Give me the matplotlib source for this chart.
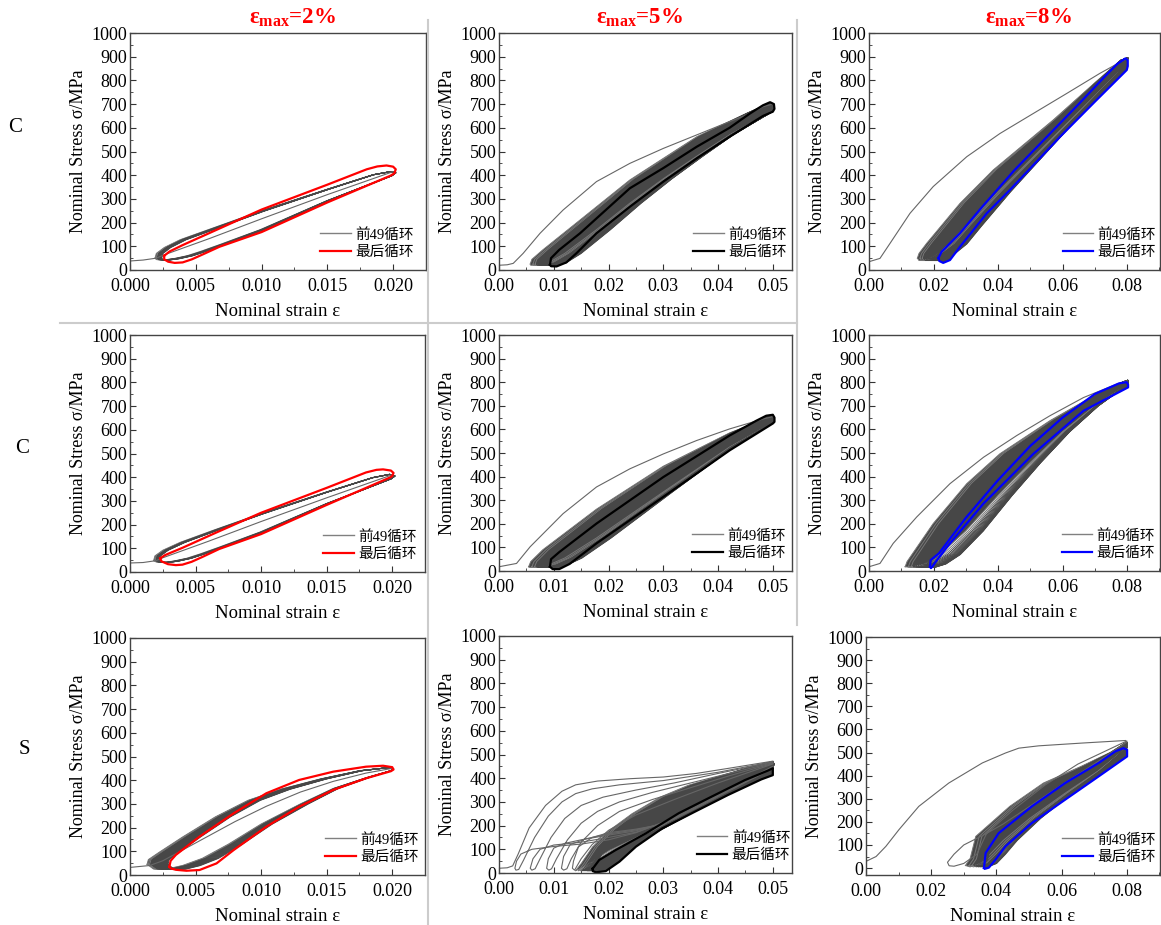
import numpy as np
import matplotlib.pyplot as plt
from matplotlib.lines import Line2D
from matplotlib.ticker import MultipleLocator, FormatStrFormatter

plt.rcParams['font.family'] = ['Liberation Serif', 'Noto Sans CJK SC']
plt.rcParams['mathtext.fontset'] = 'custom'
plt.rcParams['mathtext.rm'] = 'Liberation Serif'
plt.rcParams['mathtext.bf'] = 'Liberation Serif:bold'
plt.rcParams['mathtext.it'] = 'Liberation Serif:italic'

# ---------------- datos ----------------
titles = ['2%', '5%', '8%']
row_labels = ['C', 'C', 'S']
legend_labels = ['前49循环', '最后循环']

# fila 1, C, 2%
a_first_x = [0.0000, 0.0010, 0.0020, 0.0025, 0.0060, 0.0100, 0.0150, 0.0200]
a_first_y = [38, 42, 50, 62, 132, 216, 318, 415]
a_band_x = [0.0021, 0.0022, 0.0028, 0.0040, 0.0066, 0.0100, 0.0150, 0.0185, 0.0198, 0.0202,
            0.0199, 0.0150, 0.0100, 0.0070, 0.0055, 0.0045, 0.0035, 0.0027, 0.0022, 0.0021]
a_band_y = [50, 70, 95, 128, 180, 248, 340, 402, 415, 410,
            398, 292, 170, 108, 78, 60, 48, 42, 44, 50]
a_valleys = [0.0019, 0.0020, 0.0020, 0.0021, 0.0021, 0.0021, 0.0022, 0.0022,
             0.0022, 0.0022, 0.0023, 0.0023, 0.0023, 0.0023, 0.0024, 0.0024]
a_last_x = [0.0026, 0.0030, 0.0040, 0.0066, 0.0100, 0.0150, 0.0180, 0.0188, 0.0195, 0.0200, 0.0202, 0.0201,
            0.0198, 0.0150, 0.0100, 0.0068, 0.0055, 0.0047, 0.0040, 0.0034, 0.0029, 0.0026, 0.0026]
a_last_y = [60, 78, 105, 170, 255, 360, 425, 437, 441, 436, 425, 408,
            398, 285, 160, 98, 65, 45, 32, 30, 35, 45, 60]

# fila 1, C, 5%
b_first_x = [0.0000, 0.0015, 0.0026, 0.0044, 0.0075, 0.0117, 0.0178, 0.0239, 0.0300, 0.0361,
             0.0421, 0.0452, 0.0482, 0.0500]
b_first_y = [20, 22, 28, 70, 155, 253, 373, 450, 513, 570, 626, 654, 689, 700]
b_band_x = [0.0057, 0.0060, 0.0080, 0.0148, 0.0239, 0.0361, 0.0452, 0.0495, 0.0502,
            0.0500, 0.0421, 0.0361, 0.0300, 0.0239, 0.0178, 0.0120, 0.0090, 0.0070, 0.0058, 0.0057]
b_band_y = [25, 45, 85, 211, 380, 562, 661, 705, 695,
            670, 570, 480, 385, 282, 170, 70, 30, 20, 20, 25]
b_valleys = [0.0057, 0.0062, 0.0066, 0.0069, 0.0072, 0.0074, 0.0076, 0.0078, 0.0080, 0.0081, 0.0082,
             0.0083, 0.0084, 0.0085, 0.0086, 0.0087, 0.0088, 0.0089, 0.0090, 0.0091, 0.0092]
b_last_x = [0.0093, 0.0095, 0.0110, 0.0148, 0.0239, 0.0300, 0.0361, 0.0421, 0.0458, 0.0482, 0.0495, 0.0502,
            0.0503, 0.0500, 0.0482, 0.0421, 0.0361, 0.0300, 0.0239, 0.0178, 0.0142, 0.0123, 0.0105,
            0.0095, 0.0093]
b_last_y = [22, 50, 85, 155, 345, 430, 520, 600, 660, 695, 708, 700,
            680, 668, 650, 562, 471, 373, 267, 155, 72, 32, 15, 16, 22]

# fila 1, C, 8%
c_first_x = [0.0000, 0.0034, 0.0065, 0.0127, 0.0199, 0.0303, 0.0406, 0.0510, 0.0613, 0.0716, 0.0800]
c_first_y = [35, 49, 112, 239, 352, 478, 576, 661, 745, 830, 893]
c_band_x = [0.0150, 0.0155, 0.0179, 0.0282, 0.0385, 0.0571, 0.0700, 0.0780, 0.0802,
            0.0800, 0.0700, 0.0600, 0.0500, 0.0400, 0.0300, 0.0250, 0.0200, 0.0170, 0.0155, 0.0150]
c_band_y = [50, 70, 113, 281, 422, 633, 790, 885, 895,
            870, 735, 600, 465, 330, 185, 110, 60, 40, 40, 50]
c_valleys = [0.0150, 0.0158, 0.0165, 0.0170, 0.0175, 0.0179, 0.0183, 0.0186, 0.0189, 0.0192, 0.0195,
             0.0197, 0.0199, 0.0201, 0.0203, 0.0205, 0.0207, 0.0209, 0.0210, 0.0212, 0.0213]
c_last_x = [0.0215, 0.0225, 0.0282, 0.0350, 0.0450, 0.0550, 0.0650, 0.0730, 0.0770, 0.0795, 0.0802, 0.0802,
            0.0799, 0.0700, 0.0592, 0.0500, 0.0437, 0.0365, 0.0282, 0.0251, 0.0230, 0.0218, 0.0215]
c_last_y = [50, 77, 155, 265, 420, 560, 700, 815, 870, 893, 885, 860,
            844, 710, 562, 429, 338, 239, 98, 42, 30, 38, 50]

# fila 2, C, 2%
d_first_x = [0.0000, 0.0010, 0.0020, 0.0025, 0.0060, 0.0100, 0.0150, 0.0200]
d_first_y = [38, 40, 48, 60, 130, 213, 313, 410]
d_band_x = [0.0020, 0.0021, 0.0027, 0.0040, 0.0066, 0.0100, 0.0150, 0.0185, 0.0198, 0.0202,
            0.0199, 0.0150, 0.0100, 0.0070, 0.0055, 0.0045, 0.0035, 0.0027, 0.0022, 0.0020]
d_band_y = [48, 68, 92, 125, 178, 245, 337, 398, 412, 405,
            393, 288, 168, 106, 76, 58, 46, 40, 42, 48]
d_valleys = [0.0018, 0.0019, 0.0019, 0.0020, 0.0020, 0.0020, 0.0021, 0.0021,
             0.0021, 0.0021, 0.0022, 0.0022, 0.0022, 0.0022]
d_last_x = [0.0023, 0.0027, 0.0040, 0.0066, 0.0100, 0.0150, 0.0180, 0.0188, 0.0193, 0.0199, 0.0201, 0.0200,
            0.0198, 0.0150, 0.0100, 0.0068, 0.0055, 0.0047, 0.0040, 0.0035, 0.0029, 0.0024, 0.0023]
d_last_y = [58, 72, 102, 167, 250, 355, 420, 431, 433, 428, 418, 405,
            398, 283, 160, 97, 63, 43, 31, 29, 33, 45, 58]

# fila 2, C, 5%
e_first_x = [0.0000, 0.0032, 0.0057, 0.0117, 0.0178, 0.0239, 0.0300, 0.0361, 0.0421, 0.0482, 0.0500]
e_first_y = [18, 32, 103, 243, 356, 433, 496, 553, 602, 644, 654]
e_band_x = [0.0054, 0.0058, 0.0080, 0.0178, 0.0300, 0.0421, 0.0482, 0.0498, 0.0503,
            0.0500, 0.0421, 0.0300, 0.0178, 0.0120, 0.0090, 0.0070, 0.0056, 0.0054]
e_band_y = [18, 40, 90, 262, 444, 585, 641, 660, 650,
            628, 525, 335, 140, 55, 25, 15, 15, 18]
e_valleys = [0.0054, 0.0060, 0.0065, 0.0069, 0.0072, 0.0075, 0.0077, 0.0079, 0.0081, 0.0082,
             0.0083, 0.0084, 0.0085, 0.0086, 0.0087, 0.0088, 0.0089, 0.0090, 0.0091]
e_last_x = [0.0093, 0.0095, 0.0110, 0.0178, 0.0300, 0.0421, 0.0470, 0.0488, 0.0500, 0.0503, 0.0503,
            0.0500, 0.0421, 0.0300, 0.0178, 0.0129, 0.0110, 0.0098, 0.0093]
e_last_y = [18, 50, 80, 201, 398, 574, 637, 658, 662, 650, 632,
            625, 511, 314, 117, 30, 8, 8, 18]

# fila 2, C, 8%
f_first_x = [0.0000, 0.0034, 0.0075, 0.0148, 0.0251, 0.0355, 0.0458, 0.0561, 0.0665, 0.0768, 0.0800]
f_first_y = [18, 32, 117, 229, 370, 482, 574, 658, 735, 792, 805]
f_band_x = [0.0112, 0.0118, 0.0199, 0.0303, 0.0406, 0.0561, 0.0700, 0.0785, 0.0802,
            0.0802, 0.0700, 0.0600, 0.0500, 0.0400, 0.0300, 0.0220, 0.0170, 0.0130, 0.0112]
f_band_y = [18, 40, 201, 370, 497, 637, 745, 800, 808,
            790, 700, 590, 460, 320, 170, 70, 30, 15, 18]
f_valleys = [0.0112, 0.0122, 0.0131, 0.0139, 0.0146, 0.0152, 0.0157, 0.0162, 0.0166, 0.0170,
             0.0173, 0.0176, 0.0178, 0.0180, 0.0182, 0.0184, 0.0185, 0.0186, 0.0187]
f_last_x = [0.0189, 0.0191, 0.0217, 0.0300, 0.0400, 0.0500, 0.0600, 0.0700, 0.0775, 0.0798, 0.0803,
            0.0803, 0.0665, 0.0510, 0.0355, 0.0251, 0.0210, 0.0196, 0.0192, 0.0189]
f_last_y = [18, 46, 75, 225, 385, 530, 650, 750, 795, 800, 790,
            778, 679, 497, 286, 117, 45, 18, 12, 18]

# fila 3, S, 2%
g_first_x = [0.0000, 0.0015, 0.0025, 0.0050, 0.0080, 0.0104, 0.0130, 0.0155, 0.0180, 0.0200]
g_first_y = [32, 40, 60, 135, 225, 290, 350, 395, 430, 450]
g_band_x = [0.0013, 0.0014, 0.0022, 0.0040, 0.0065, 0.0090, 0.0115, 0.0145, 0.0175, 0.0195, 0.0201,
            0.0199, 0.0180, 0.0155, 0.0130, 0.0100, 0.0075, 0.0055, 0.0040, 0.0028, 0.0018, 0.0013]
g_band_y = [45, 65, 95, 160, 245, 315, 362, 405, 440, 452, 448,
            440, 410, 365, 300, 215, 130, 70, 40, 25, 25, 45]
g_valleys = [0.0013, 0.0014, 0.0015, 0.0016, 0.0017, 0.0018, 0.0019, 0.0020, 0.0021,
             0.0022, 0.0023, 0.0024, 0.0025, 0.0026, 0.0027, 0.0028, 0.0029]
g_last_x = [0.0030, 0.0031, 0.0035, 0.0053, 0.0079, 0.0104, 0.0129, 0.0155, 0.0180, 0.0193, 0.0200, 0.0201,
            0.0199, 0.0180, 0.0155, 0.0129, 0.0104, 0.0079, 0.0066, 0.0053, 0.0043, 0.0035, 0.0031, 0.0030]
g_last_y = [35, 60, 85, 162, 260, 345, 401, 436, 457, 461, 455, 445,
            438, 408, 359, 288, 204, 105, 49, 21, 18, 22, 28, 35]

# fila 3, S, 5%
h_first_x = [0.0000, 0.0015, 0.0025, 0.0035, 0.0055, 0.0085, 0.0115, 0.0140, 0.0180, 0.0240,
             0.0300, 0.0360, 0.0420, 0.0500]
h_first_y = [20, 22, 30, 80, 190, 285, 345, 372, 388, 398, 405, 420, 442, 472]
h_early_x = [
    [0.0500, 0.0450, 0.0400, 0.0350, 0.0300, 0.0250, 0.0200, 0.0150, 0.0100, 0.0060, 0.0040, 0.0032,
     0.0029, 0.0031, 0.0036, 0.0045, 0.0065, 0.0090, 0.0115, 0.0140, 0.0170, 0.0220, 0.0300, 0.0400, 0.0500],
    [0.0500, 0.0450, 0.0400, 0.0350, 0.0300, 0.0250, 0.0200, 0.0150, 0.0100, 0.0075, 0.0062, 0.0057,
     0.0060, 0.0066, 0.0075, 0.0095, 0.0120, 0.0150, 0.0190, 0.0250, 0.0320, 0.0400, 0.0500],
    [0.0500, 0.0450, 0.0400, 0.0350, 0.0300, 0.0250, 0.0200, 0.0150, 0.0120, 0.0100, 0.0090, 0.0087,
     0.0091, 0.0096, 0.0105, 0.0125, 0.0150, 0.0180, 0.0220, 0.0280, 0.0350, 0.0420, 0.0500],
    [0.0500, 0.0450, 0.0400, 0.0350, 0.0300, 0.0250, 0.0200, 0.0160, 0.0130, 0.0118, 0.0114,
     0.0118, 0.0124, 0.0132, 0.0150, 0.0180, 0.0220, 0.0280, 0.0350, 0.0420, 0.0500],
    [0.0500, 0.0450, 0.0400, 0.0350, 0.0300, 0.0250, 0.0200, 0.0170, 0.0145, 0.0136, 0.0134,
     0.0138, 0.0150, 0.0170, 0.0200, 0.0250, 0.0320, 0.0400, 0.0500],
]
h_early_y = [
    [450, 390, 330, 270, 215, 170, 140, 122, 112, 100, 80, 50,
     20, 12, 15, 55, 150, 240, 300, 335, 355, 372, 390, 425, 470],
    [448, 388, 328, 268, 212, 172, 150, 130, 118, 100, 60, 20,
     12, 18, 60, 150, 230, 285, 320, 350, 380, 420, 468],
    [446, 386, 326, 266, 210, 178, 160, 140, 125, 105, 60, 20,
     12, 18, 60, 140, 210, 260, 300, 340, 380, 420, 465],
    [444, 384, 324, 264, 208, 182, 165, 145, 120, 70, 20,
     12, 18, 60, 130, 200, 260, 310, 360, 410, 462],
    [442, 382, 322, 262, 206, 185, 170, 150, 110, 50, 20,
     12, 60, 120, 180, 245, 310, 380, 460],
]
h_band_x = [0.0150, 0.0160, 0.0180, 0.0210, 0.0250, 0.0300, 0.0350, 0.0400, 0.0450, 0.0500, 0.0502,
            0.0500, 0.0450, 0.0400, 0.0350, 0.0300, 0.0250, 0.0210, 0.0180, 0.0160, 0.0150]
h_band_y = [10, 40, 110, 180, 250, 320, 370, 405, 440, 470, 460,
            440, 380, 320, 260, 200, 140, 95, 50, 20, 10]
h_valleys = [0.0140, 0.0145, 0.0149, 0.0152, 0.0155, 0.0157, 0.0159, 0.0161,
             0.0162, 0.0163, 0.0164, 0.0165, 0.0166, 0.0167, 0.0168]
h_last_x = [0.0171, 0.0183, 0.0213, 0.0268, 0.0328, 0.0388, 0.0449, 0.0491, 0.0500,
            0.0500, 0.0479, 0.0418, 0.0358, 0.0298, 0.0250, 0.0220, 0.0195, 0.0177, 0.0171, 0.0171]
h_last_y = [18, 55, 97, 167, 252, 322, 392, 432, 442,
            413, 395, 329, 259, 188, 111, 48, 8, 3, 8, 18]

# fila 3, S, 8%
i_first_x = [0.0000, 0.0031, 0.0061, 0.0101, 0.0162, 0.0254, 0.0357, 0.0428, 0.0469, 0.0530, 0.0663, 0.0796]
i_first_y = [29, 50, 94, 166, 267, 368, 455, 498, 519, 529, 541, 552]
i_early_x = [
    [0.0800, 0.0700, 0.0600, 0.0500, 0.0420, 0.0370, 0.0300, 0.0270, 0.0250, 0.0255, 0.0270,
     0.0300, 0.0340, 0.0370, 0.0450, 0.0550, 0.0650, 0.0800],
]
i_early_y = [
    [545, 450, 360, 265, 190, 150, 100, 60, 25, 10, 8,
     20, 60, 150, 250, 360, 450, 550],
]
i_band_x = [0.0316, 0.0330, 0.0347, 0.0449, 0.0550, 0.0663, 0.0750, 0.0800,
            0.0800, 0.0714, 0.0611, 0.0509, 0.0430, 0.0390, 0.0360, 0.0330, 0.0316]
i_band_y = [11, 40, 137, 267, 368, 440, 500, 545,
            520, 420, 320, 215, 120, 60, 20, 5, 11]
i_valleys = [0.0305, 0.0316, 0.0325, 0.0332, 0.0338, 0.0343, 0.0347, 0.0351,
             0.0354, 0.0357, 0.0359, 0.0361]
i_last_x = [0.0362, 0.0367, 0.0407, 0.0509, 0.0611, 0.0714, 0.0765, 0.0790, 0.0801,
            0.0801, 0.0714, 0.0611, 0.0509, 0.0428, 0.0397, 0.0377, 0.0365, 0.0362]
i_last_y = [0, 65, 151, 267, 368, 455, 505, 519, 512,
            483, 397, 296, 195, 94, 36, 2, -3, 0]

# ---------------- figura ----------------
W, H = 1161, 925
fig = plt.figure(figsize=(W / 100, H / 100), dpi=100)

# (izq, arriba, derecha, abajo) en pixeles
boxes = [(130, 33, 426, 270), (499, 33, 792, 270), (869, 33, 1160, 270),
         (130, 335, 425, 572), (499, 335, 792, 571), (869, 335, 1160, 571),
         (130, 638, 425, 875), (499, 636, 792, 873), (866, 637, 1160, 875)]
leg_x = [0.642, 0.662, 0.665, 0.654, 0.659, 0.662, 0.661, 0.675, 0.667]

panels = [
    (a_first_x, a_first_y, a_band_x, a_band_y, a_valleys, None, None, a_last_x, a_last_y, 'red'),
    (b_first_x, b_first_y, b_band_x, b_band_y, b_valleys, None, None, b_last_x, b_last_y, 'black'),
    (c_first_x, c_first_y, c_band_x, c_band_y, c_valleys, None, None, c_last_x, c_last_y, 'blue'),
    (d_first_x, d_first_y, d_band_x, d_band_y, d_valleys, None, None, d_last_x, d_last_y, 'red'),
    (e_first_x, e_first_y, e_band_x, e_band_y, e_valleys, None, None, e_last_x, e_last_y, 'black'),
    (f_first_x, f_first_y, f_band_x, f_band_y, f_valleys, None, None, f_last_x, f_last_y, 'blue'),
    (g_first_x, g_first_y, g_band_x, g_band_y, g_valleys, None, None, g_last_x, g_last_y, 'red'),
    (h_first_x, h_first_y, h_band_x, h_band_y, h_valleys, h_early_x, h_early_y, h_last_x, h_last_y, 'black'),
    (i_first_x, i_first_y, i_band_x, i_band_y, i_valleys, i_early_x, i_early_y, i_last_x, i_last_y, 'blue'),
]
xlims = [(0, 0.0225), (0, 0.0535), (0, 0.0902)]
xsteps = [0.005, 0.01, 0.02]
xfmts = ['%.3f', '%.2f', '%.2f']


def remap(tx, v):
    # desplaza el valle del lazo a v manteniendo el pico en su sitio
    tx = np.asarray(tx)
    x0, xp = tx.min(), tx.max()
    return v + (tx - x0) * (xp - v) / (xp - x0)


band_col = '#474747'
for k, (fx, fy, bx, by, vals, ex, ey, lx, ly, col) in enumerate(panels):
    l, t, r, b = boxes[k]
    ax = fig.add_axes([l / W, 1 - b / H, (r - l) / W, (b - t) / H])
    c = k % 3

    # zona oscura de los 49 primeros lazos
    ax.fill(remap(bx, vals[0]), by, color=band_col, lw=0)
    if c == 0:
        ax.fill(remap(bx, vals[-1]), by, color='white', lw=0)
    else:
        ax.fill(lx, ly, color=band_col, lw=0)
    for j, v in enumerate(vals):
        ax.plot(remap(bx, v), by, color='#777777' if j < 3 else band_col, lw=0.7)
    ax.plot(fx, fy, color='#666666', lw=0.8)
    if ex is not None:
        for xx, yy in zip(ex, ey):
            ax.plot(xx, yy, color='#666666', lw=0.8)
    ax.plot(lx, ly, color=col, lw=1.6)

    ax.set_xlim(*xlims[c])
    ax.set_ylim(-30 if k == 8 else 0, 1000)
    ax.xaxis.set_major_locator(MultipleLocator(xsteps[c]))
    ax.xaxis.set_minor_locator(MultipleLocator(xsteps[c] / 2))
    ax.xaxis.set_major_formatter(FormatStrFormatter(xfmts[c]))
    ax.yaxis.set_major_locator(MultipleLocator(100))
    ax.yaxis.set_minor_locator(MultipleLocator(50))
    ax.tick_params(which='both', direction='in', labelsize=13, color='#333333')
    ax.tick_params(axis='y', pad=2)
    ax.tick_params(axis='x', pad=5.5)
    ax.tick_params(which='major', length=4)
    ax.tick_params(which='minor', length=2.5)
    for s in ax.spines.values():
        s.set_color('#444444')
        s.set_linewidth(1.0)
    ax.set_xlabel('Nominal strain ε', fontsize=13.5, labelpad=6)
    ax.set_ylabel('Nominal Stress σ/MPa', fontsize=13, labelpad=3)

    handles = [Line2D([], [], color='#808080', lw=1.0), Line2D([], [], color=col, lw=1.6)]
    ax.legend(handles, legend_labels, loc='lower left', frameon=False, fontsize=10.5,
              handlelength=2.1, handletextpad=0.3, labelspacing=0.3,
              borderaxespad=0, borderpad=0, bbox_to_anchor=(leg_x[k], 0.045))

# titulos de columna
for c, (xc, tt) in enumerate(zip([293, 640, 1029], titles)):
    fig.text(xc / W, 1 - 18 / H, r'$\mathbf{\varepsilon_{max}}$=' + tt, color='red', fontsize=16.5,
             fontweight='bold', ha='center', va='center')

# etiquetas de fila
for (xr, yr), lab in zip([(15, 128), (22, 449), (24, 750)], row_labels):
    fig.text(xr / W, 1 - yr / H, lab, fontsize=15, ha='center', va='center')

# lineas de separacion del montaje
sep = '#cccccc'
fig.add_artist(Line2D([428 / W, 428 / W], [1 - 20 / H, 0], transform=fig.transFigure, color=sep, lw=1.5))
fig.add_artist(Line2D([797 / W, 797 / W], [1 - 20 / H, 1 - 625 / H], transform=fig.transFigure, color=sep, lw=1.5))
fig.add_artist(Line2D([60 / W, 797 / W], [1 - 323 / H, 1 - 323 / H], transform=fig.transFigure, color=sep, lw=1.5))

fig.savefig('out.png', dpi=100)
